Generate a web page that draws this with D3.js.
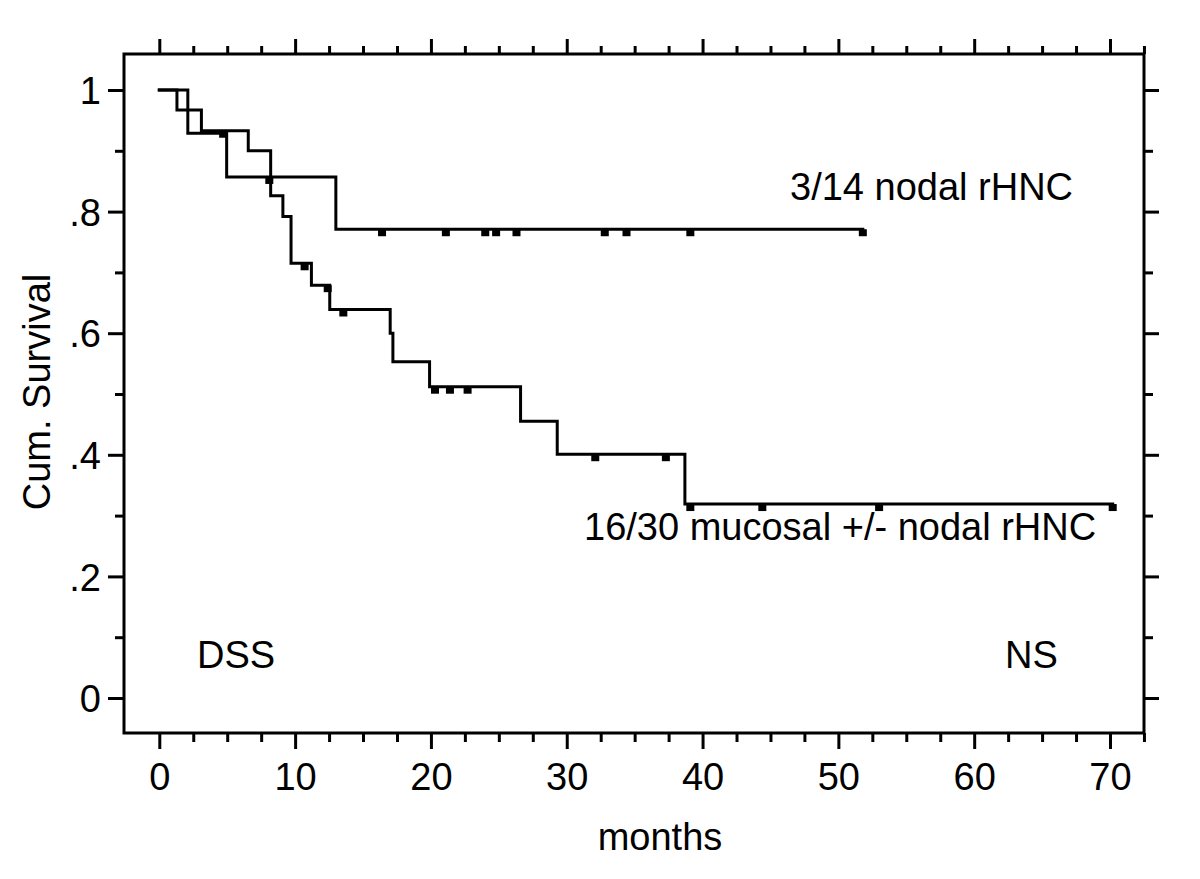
<!DOCTYPE html>
<html>
<head>
<meta charset="utf-8">
<script src="https://cdn.jsdelivr.net/npm/d3@7"></script>
<style>
  body { margin: 0; background: #fff; }
  svg { display: block; font-family: "Liberation Sans", Arial, sans-serif; }
</style>
</head>
<body>
<div id="chart"></div>
<script>
// nodal rHNC (14 patients): step times, survival after each step
const nodalTimes = [0, 2.1, 4.96, 13.0];
const nodalSurv = [1, 0.929, 0.857, 0.771];
const nodalEnd = 51.8;
const nodalCensor = [8.1, 16.4, 21.1, 24.0, 24.8, 26.3, 32.8, 34.4, 39.1, 51.8];

// mucosal +/- nodal rHNC (30 patients)
const mucTimes = [0, 1.3, 3.1, 6.55, 8.2, 9.1, 9.7, 11.2, 12.55, 17.0, 17.2, 19.9, 26.6, 29.3, 38.7];
const mucSurv = [1, 0.967, 0.933, 0.9, 0.826, 0.792, 0.715, 0.679, 0.639, 0.6, 0.553, 0.512, 0.455, 0.401, 0.319];
const mucEnd = 70.2;
const mucCensor = [4.7, 10.7, 12.4, 13.55, 20.3, 21.4, 22.7, 32.1, 37.3, 39.1, 44.4, 53.0, 70.2];

const xMajor = [0, 10, 20, 30, 40, 50, 60, 70];
const xMinor = [2.5, 5, 7.5, 12.5, 15, 17.5, 22.5, 25, 27.5, 32.5, 35, 37.5, 42.5, 45, 47.5,
                52.5, 55, 57.5, 62.5, 65, 67.5, 72.5];
const yMajor = [0, 0.2, 0.4, 0.6, 0.8, 1];
const yMinor = [0.1, 0.3, 0.5, 0.7, 0.9];

const width = 1200, height = 879;
const frame = { left: 124, right: 1144, top: 54, bottom: 733 };

const svg = d3.select('#chart').append('svg')
  .attr('width', width)
  .attr('height', height);

const x = d3.scaleLinear().domain([0, 70]).range([159.3, 1110]);
const y = d3.scaleLinear().domain([0, 1]).range([698, 90]);

const yFmt = d => (d === 0 ? '0' : d === 1 ? '1' : d3.format('.1f')(d).replace(/^0/, ''));

function styleAxis(g) {
  g.select('.domain').remove();
  g.selectAll('line').attr('stroke', '#000').attr('stroke-width', 3);
  g.selectAll('text').attr('fill', '#000').style('font-size', '38px');
}

// bottom
svg.append('g').attr('transform', `translate(0,${frame.bottom})`)
  .call(d3.axisBottom(x).tickValues(xMajor).tickSize(16).tickFormat(d3.format('d')))
  .call(styleAxis)
  .call(g => g.selectAll('text').attr('y', 57).attr('dy', null));
svg.append('g').attr('transform', `translate(0,${frame.bottom})`)
  .call(d3.axisBottom(x).tickValues(xMinor).tickSize(9).tickFormat(''))
  .call(styleAxis);

// top
svg.append('g').attr('transform', `translate(0,${frame.top})`)
  .call(d3.axisTop(x).tickValues(xMajor).tickSize(15).tickFormat(''))
  .call(styleAxis);
svg.append('g').attr('transform', `translate(0,${frame.top})`)
  .call(d3.axisTop(x).tickValues(xMinor).tickSize(8).tickFormat(''))
  .call(styleAxis);

// left
svg.append('g').attr('transform', `translate(${frame.left},0)`)
  .call(d3.axisLeft(y).tickValues(yMajor).tickSize(16).tickFormat(yFmt))
  .call(styleAxis)
  .call(g => g.selectAll('text').attr('x', -23).attr('dy', '0.36em'));
svg.append('g').attr('transform', `translate(${frame.left},0)`)
  .call(d3.axisLeft(y).tickValues(yMinor).tickSize(9).tickFormat(''))
  .call(styleAxis);

// right
svg.append('g').attr('transform', `translate(${frame.right},0)`)
  .call(d3.axisRight(y).tickValues(yMajor).tickSize(15).tickFormat(''))
  .call(styleAxis);
svg.append('g').attr('transform', `translate(${frame.right},0)`)
  .call(d3.axisRight(y).tickValues(yMinor).tickSize(9).tickFormat(''))
  .call(styleAxis);

// frame
svg.append('rect')
  .attr('x', frame.left).attr('y', frame.top)
  .attr('width', frame.right - frame.left)
  .attr('height', frame.bottom - frame.top)
  .attr('fill', 'none').attr('stroke', '#000').attr('stroke-width', 3);

// curves
const line = d3.line().x(d => x(d[0])).y(d => y(d[1])).curve(d3.curveStepAfter);

function drawCurve(times, surv, end, censor) {
  const pts = times.map((t, i) => [t, surv[i]]);
  pts.push([end, surv[surv.length - 1]]);
  svg.append('path')
    .datum(pts)
    .attr('d', line)
    .attr('fill', 'none')
    .attr('stroke', '#000')
    .attr('stroke-width', 3)
    .attr('stroke-linecap', 'square');

  const survAt = t => surv[Math.max(0, d3.bisectRight(times, t) - 1)];
  svg.append('g').selectAll('rect')
    .data(censor)
    .join('rect')
    .attr('x', d => x(d) - 4)
    .attr('y', d => y(survAt(d)))
    .attr('width', 8)
    .attr('height', 7)
    .attr('fill', '#000');
}

drawCurve(nodalTimes, nodalSurv, nodalEnd, nodalCensor);
drawCurve(mucTimes, mucSurv, mucEnd, mucCensor);

// texts
const txt = (s, px, py, anchor) => svg.append('text')
  .attr('x', px).attr('y', py)
  .attr('text-anchor', anchor || 'start')
  .style('font-size', '38px')
  .attr('fill', '#000')
  .text(s);

txt('3/14 nodal rHNC', 790, 200);
txt('16/30 mucosal +/- nodal rHNC', 584, 540);
txt('DSS', 197, 668);
txt('NS', 1005, 668);
txt('months', 660, 850, 'middle');

svg.append('text')
  .attr('transform', 'translate(50,392) rotate(-90)')
  .attr('text-anchor', 'middle')
  .style('font-size', '38px')
  .attr('fill', '#000')
  .text('Cum. Survival');
</script>
</body>
</html>
